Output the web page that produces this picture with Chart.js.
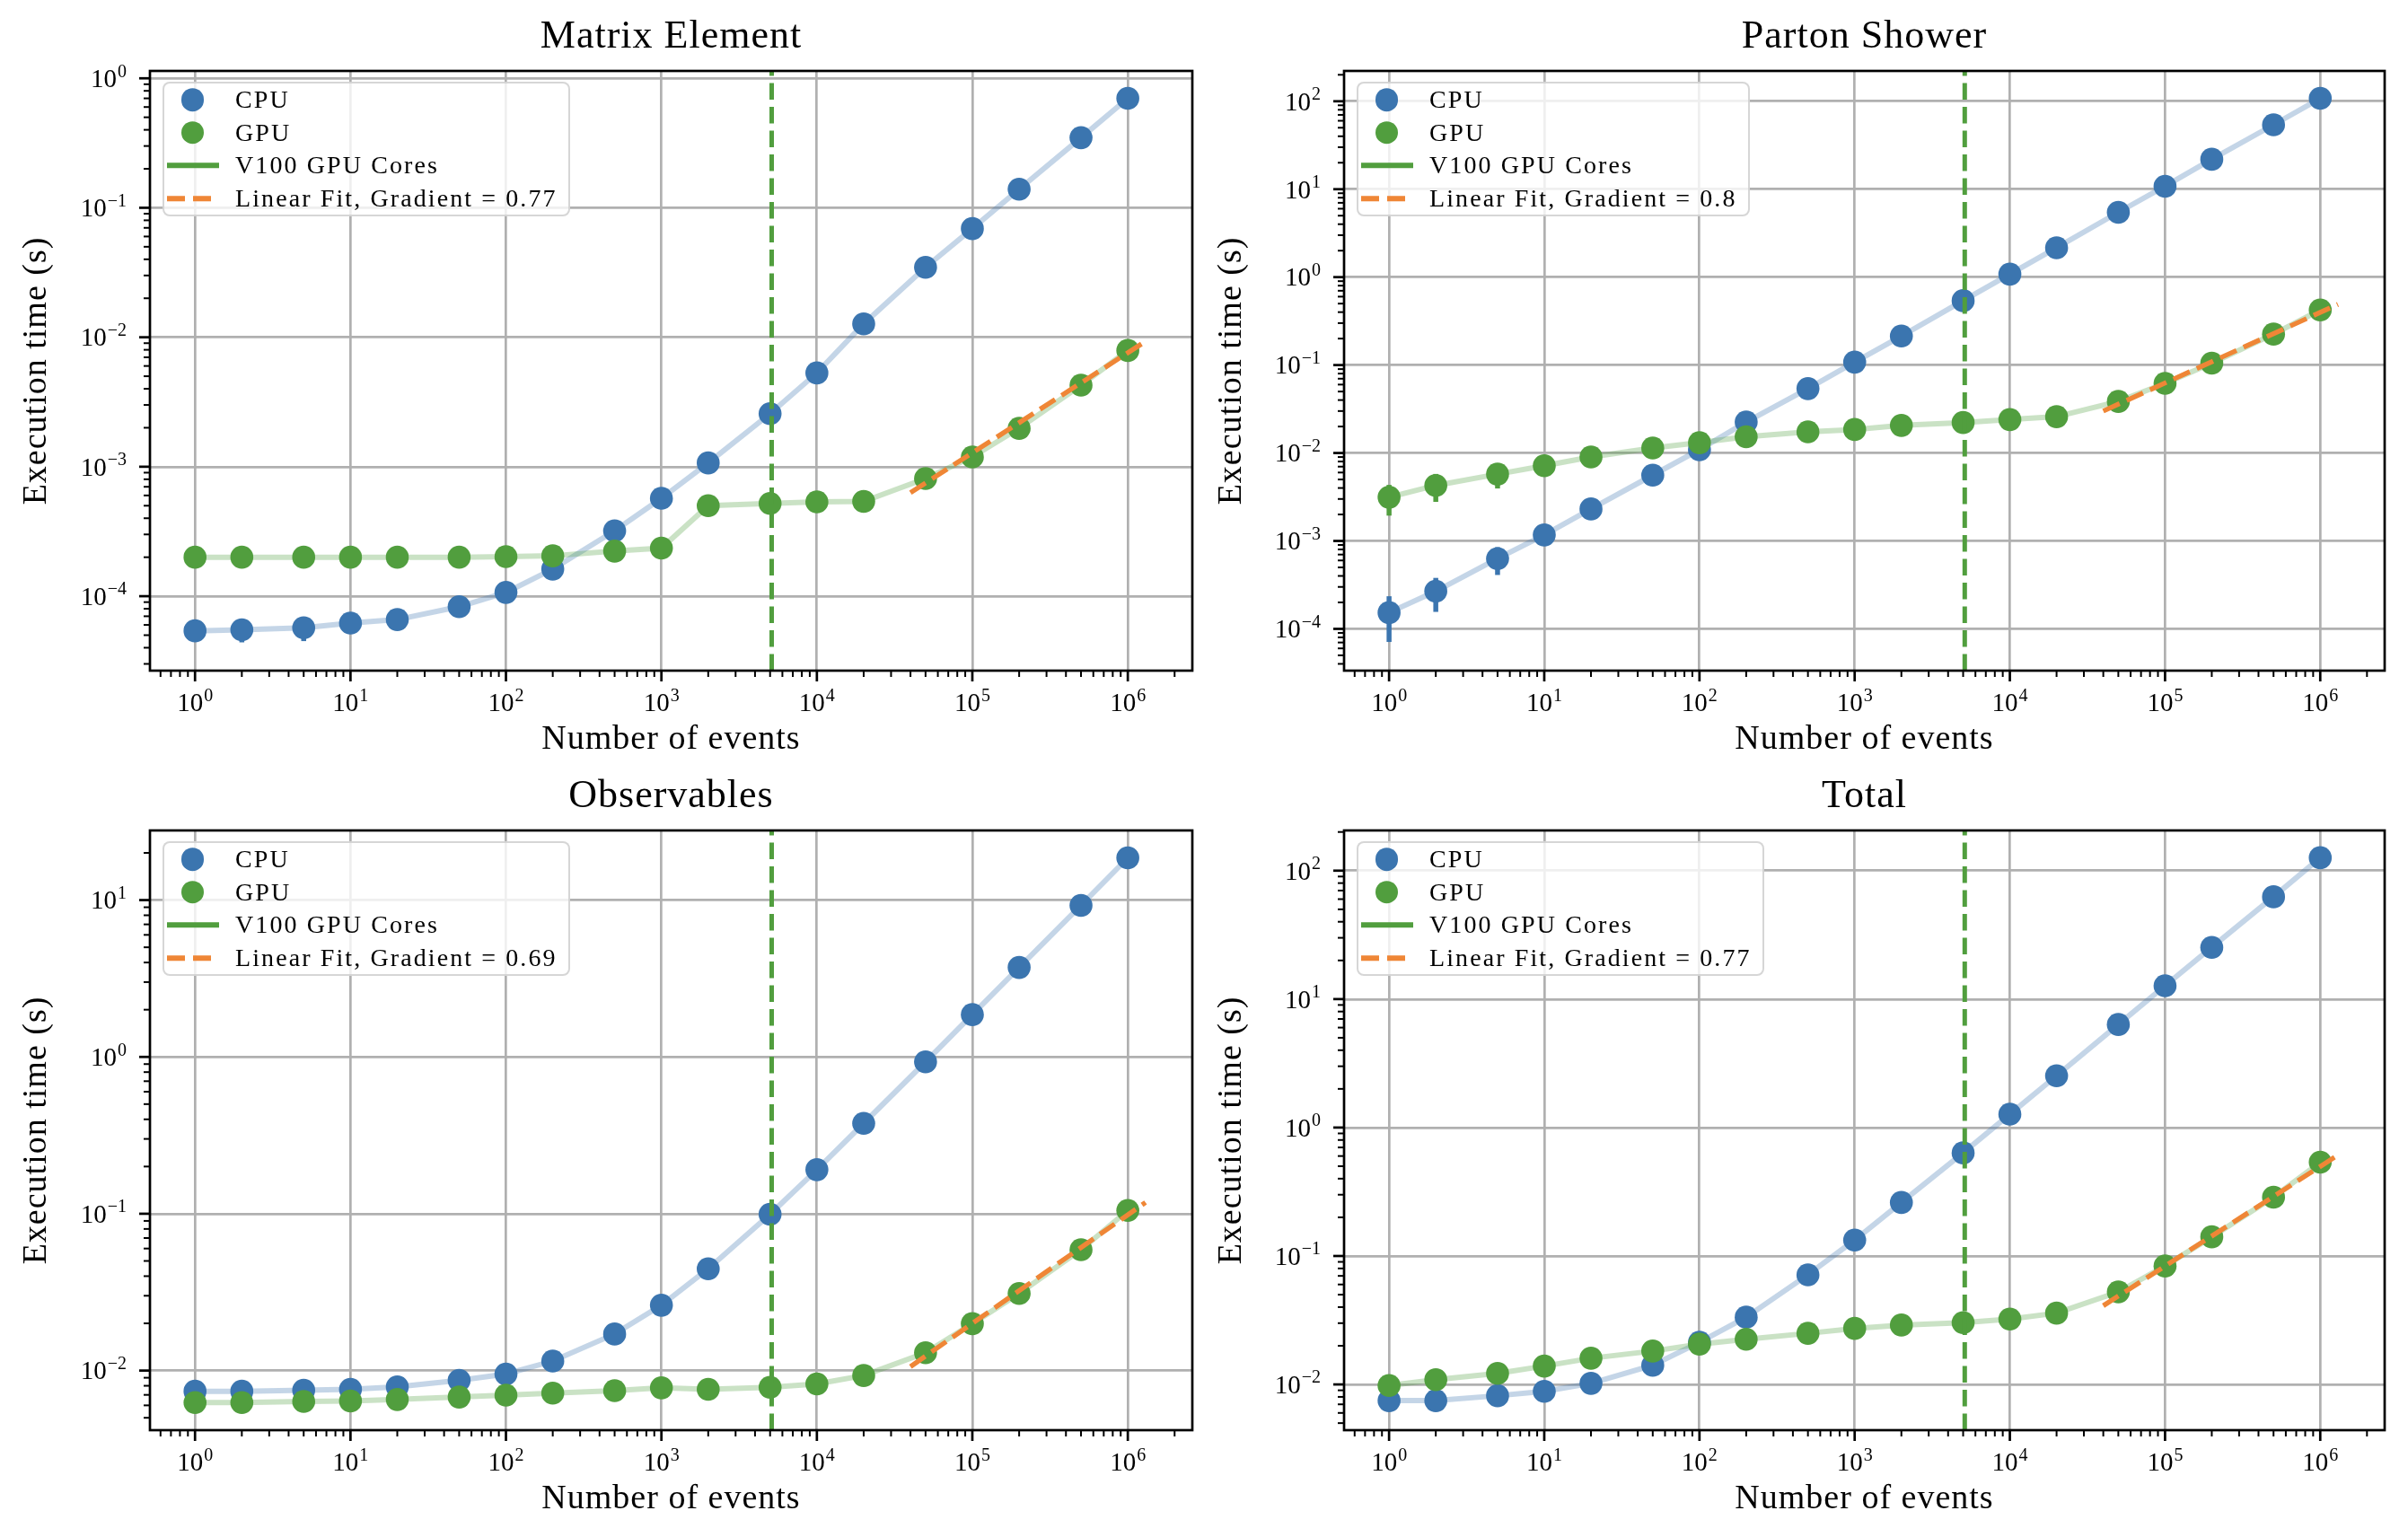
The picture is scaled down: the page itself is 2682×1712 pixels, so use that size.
<!DOCTYPE html>
<html>
<head>
<meta charset="utf-8">
<script src="https://cdn.jsdelivr.net/npm/chart.js@4.4.1/dist/chart.umd.min.js"></script>
<style>
  html, body { margin: 0; padding: 0; background: #ffffff; }
  body { width: 2682px; height: 1712px; position: relative; overflow: hidden; font-family: "Liberation Serif", serif; }
  canvas { position: absolute; }
  .legend { position: absolute; background: rgba(255,255,255,0.8); border: 2.7px solid rgba(204,204,204,0.8);
            border-radius: 8px; padding: 0 12px 0 0; box-sizing: border-box; }
  .row { height: 36.6px; position: relative; display: flex; align-items: center; }
  .lbl { margin-left: 79px; font-size: 28px; letter-spacing: 2.1px; white-space: nowrap; color: #000; }
  .dot { position: absolute; left: 18.5px; width: 25.6px; height: 25.6px; border-radius: 50%; top: 50%; transform: translateY(-50%); }
  .hline { position: absolute; left: 2.5px; width: 58px; height: 5.5px; top: 50%; transform: translateY(-50%); }
</style>
</head>
<body>
<script>
// ---------------- data ----------------
const events = [1, 2, 5, 10, 20, 50, 100, 200, 500, 1000, 2000, 5000, 10000, 20000, 50000, 100000, 200000, 500000, 1000000];

const meCpu    = [5.4e-5, 5.5e-5, 5.7e-5, 6.2e-5, 6.6e-5, 8.3e-5, 1.07e-4, 1.62e-4, 3.2e-4, 5.7e-4, 1.07e-3, 2.57e-3, 5.3e-3, 1.27e-2, 3.47e-2, 6.9e-2, 0.139, 0.348, 0.70];
const meCpuErr = [0, 1.1e-5, 1.2e-5, 0, 0, 0, 0, 0, 0, 0, 0, 0, 0, 0, 0, 0, 0, 0, 0];
const meGpu    = [2.0e-4, 2.0e-4, 2.0e-4, 2.0e-4, 2.0e-4, 2.0e-4, 2.02e-4, 2.05e-4, 2.23e-4, 2.35e-4, 5.0e-4, 5.2e-4, 5.35e-4, 5.4e-4, 8.1e-4, 1.19e-3, 1.98e-3, 4.27e-3, 7.9e-3];
const meGpuErr = [0, 0, 0, 0, 0, 0, 0, 0, 0, 0, 0, 0, 0, 0, 0, 0, 0, 0, 0];

const psCpu    = [1.53e-4, 2.68e-4, 6.3e-4, 1.17e-3, 2.31e-3, 5.6e-3, 1.09e-2, 2.25e-2, 5.4e-2, 0.108, 0.214, 0.54, 1.08, 2.16, 5.46, 10.8, 21.9, 54, 108];
const psCpuErr = [8.2e-5, 1.12e-4, 2.2e-4, 0, 0, 0, 0, 0, 0, 0, 0, 0, 0, 0, 0, 0, 0, 0, 0];
const psGpu    = [3.14e-3, 4.28e-3, 5.75e-3, 7.16e-3, 9.0e-3, 1.14e-2, 1.31e-2, 1.53e-2, 1.74e-2, 1.85e-2, 2.06e-2, 2.22e-2, 2.40e-2, 2.59e-2, 3.86e-2, 6.2e-2, 0.105, 0.225, 0.423];
const psGpuErr = [1.2e-3, 1.5e-3, 1.8e-3, 0, 0, 0, 0, 0, 0, 0, 0, 0, 0, 0, 0, 0, 0, 0, 0];

const obCpu    = [7.38e-3, 7.38e-3, 7.49e-3, 7.6e-3, 7.88e-3, 8.66e-3, 9.5e-3, 1.15e-2, 1.71e-2, 2.61e-2, 4.46e-2, 9.93e-2, 0.191, 0.377, 0.93, 1.86, 3.72, 9.25, 18.6];
const obCpuErr = [0, 0, 0, 0, 0, 0, 0, 0, 0, 0, 0, 0, 0, 0, 0, 0, 0, 0, 0];
const obGpu    = [6.25e-3, 6.25e-3, 6.35e-3, 6.4e-3, 6.54e-3, 6.78e-3, 6.97e-3, 7.18e-3, 7.44e-3, 7.76e-3, 7.6e-3, 7.82e-3, 8.22e-3, 9.3e-3, 1.30e-2, 1.99e-2, 3.10e-2, 5.9e-2, 0.105];
const obGpuErr = [0, 0, 0, 0, 0, 0, 0, 0, 0, 0, 0, 0, 0, 0, 0, 0, 0, 0, 0];

const toCpu    = [7.48e-3, 7.48e-3, 8.17e-3, 8.84e-3, 1.02e-2, 1.41e-2, 2.13e-2, 3.34e-2, 7.14e-2, 0.133, 0.261, 0.635, 1.27, 2.53, 6.34, 12.7, 25.3, 62.6, 126];
const toCpuErr = [0, 0, 0, 0, 0, 0, 0, 0, 0, 0, 0, 0, 0, 0, 0, 0, 0, 0, 0];
const toGpu    = [9.8e-3, 1.09e-2, 1.22e-2, 1.39e-2, 1.60e-2, 1.82e-2, 2.06e-2, 2.25e-2, 2.50e-2, 2.73e-2, 2.90e-2, 3.03e-2, 3.23e-2, 3.59e-2, 5.25e-2, 8.36e-2, 0.141, 0.287, 0.537];
const toGpuErr = [0, 0, 0, 0, 0, 0, 0, 0, 0, 0, 0, 0, 0, 0, 0, 0, 0, 0, 0];

// linear fit end points (x, y)
const fitEvents = [40000, 1300000];
const meFit = [6.3e-4, 9.3e-3];
const psFit = [3.0e-2, 0.49];
const obFit = [1.06e-2, 0.118];
const toFit = [4.1e-2, 0.61];

const panelTitles = ['Matrix Element', 'Parton Shower', 'Observables', 'Total'];
const fitGradients = ['0.77', '0.8', '0.69', '0.77'];
const seriesNames = ['CPU', 'GPU', 'V100 GPU Cores', 'Linear Fit, Gradient = '];
const v100Cores = 5120;
const xAxisTitle = 'Number of events';
const yAxisTitle = 'Execution time (s)';
// axis limits (log10)
const xLimLog = [-0.29, 6.415];
const yLimLog = [[-4.575, 0.057], [-4.475, 2.345], [-2.38, 1.444], [-2.356, 2.313]];

// ---------------- styling ----------------
const CPU_COLOR = '#3b75af';
const GPU_COLOR = '#519e3e';
const FIT_COLOR = '#ef8636';
const CPU_LIGHT = 'rgba(59,117,175,0.3)';
const GPU_LIGHT = 'rgba(81,158,62,0.3)';
const SERIF = '"Liberation Serif", "DejaVu Serif", serif';

const layouts = [
  { left: 0,    top: 0,   w: 1341, h: 856, plotL: 167, plotR: 1328 },
  { left: 1331, top: 0,   w: 1351, h: 856, plotL: 166, plotR: 1325 },
  { left: 0,    top: 846, w: 1341, h: 856, plotL: 167, plotR: 1328 },
  { left: 1331, top: 846, w: 1351, h: 856, plotL: 166, plotR: 1325 }
];
const PLOT_TOP = 79, PLOT_BOTTOM = 747;

const panelData = [
  { cpu: meCpu, cpuErr: meCpuErr, gpu: meGpu, gpuErr: meGpuErr, fit: meFit },
  { cpu: psCpu, cpuErr: psCpuErr, gpu: psGpu, gpuErr: psGpuErr, fit: psFit },
  { cpu: obCpu, cpuErr: obCpuErr, gpu: obGpu, gpuErr: obGpuErr, fit: obFit },
  { cpu: toCpu, cpuErr: toCpuErr, gpu: toGpu, gpuErr: toGpuErr, fit: toFit }
];

function logTicks(min, max) {
  const out = [];
  const e0 = Math.floor(Math.log10(min)) - 1, e1 = Math.ceil(Math.log10(max)) + 1;
  for (let e = e0; e <= e1; e++) {
    for (let k = 1; k <= 9; k++) {
      const v = k * Math.pow(10, e);
      if (v >= min * 0.99999 && v <= max * 1.00001) out.push({ value: v, major: k === 1 });
    }
  }
  return out;
}

const TICK_BASE = 29, TICK_SUP = 20, SUP_RAISE = 11.5;
function drawPow(ctx, exp, x, baseY, align) {
  const es = exp < 0 ? '\u2212' + (-exp) : String(exp);
  ctx.font = TICK_BASE + 'px ' + SERIF;
  const wB = ctx.measureText('10').width;
  ctx.font = TICK_SUP + 'px ' + SERIF;
  const wE = ctx.measureText(es).width;
  const total = wB + 1 + wE;
  const x0 = align === 'center' ? x - total / 2 : x - total;
  ctx.textAlign = 'left';
  ctx.textBaseline = 'alphabetic';
  ctx.font = TICK_BASE + 'px ' + SERIF;
  ctx.fillText('10', x0, baseY);
  ctx.font = TICK_SUP + 'px ' + SERIF;
  ctx.fillText(es, x0 + wB + 1, baseY - SUP_RAISE);
}

const mplAxes = {
  id: 'mplAxes',
  beforeDraw(chart) { chart.ctx.letterSpacing = '1px'; },
  beforeDatasetDraw(chart, args) {
    const ds = chart.data.datasets[args.index];
    if (!ds.err) return;
    const ctx = chart.ctx, xs = chart.scales.x, ys = chart.scales.y, a = chart.chartArea;
    ctx.save();
    ctx.beginPath(); ctx.rect(a.left, a.top, a.right - a.left, a.bottom - a.top); ctx.clip();
    ctx.strokeStyle = ds.pointBackgroundColor;
    ctx.lineWidth = 5.5;
    ctx.lineCap = 'butt';
    ds.data.forEach((p, i) => {
      const e = ds.err[i];
      if (!e) return;
      const px = xs.getPixelForValue(p.x);
      const lo = Math.max(p.y - e, ys.min);
      ctx.beginPath();
      ctx.moveTo(px, ys.getPixelForValue(lo));
      ctx.lineTo(px, ys.getPixelForValue(p.y + e));
      ctx.stroke();
    });
    ctx.restore();
  },
  afterDatasetsDraw(chart) {
    const ctx = chart.ctx, a = chart.chartArea, xs = chart.scales.x, ys = chart.scales.y;
    ctx.save();
    ctx.letterSpacing = '0px';
    ctx.strokeStyle = '#000';
    ctx.fillStyle = '#000';
    ctx.lineCap = 'butt';
    xs.ticks.forEach(t => {
      const px = xs.getPixelForValue(t.value);
      if (px < a.left - 0.5 || px > a.right + 0.5) return;
      ctx.lineWidth = t.major ? 2.7 : 2.0;
      ctx.beginPath(); ctx.moveTo(px, a.bottom); ctx.lineTo(px, a.bottom + (t.major ? 12 : 7)); ctx.stroke();
      if (t.major) drawPow(ctx, Math.round(Math.log10(t.value)), px, a.bottom + 45, 'center');
    });
    ys.ticks.forEach(t => {
      const py = ys.getPixelForValue(t.value);
      if (py < a.top - 0.5 || py > a.bottom + 0.5) return;
      ctx.lineWidth = t.major ? 2.7 : 2.0;
      ctx.beginPath(); ctx.moveTo(a.left, py); ctx.lineTo(a.left - (t.major ? 12 : 7), py); ctx.stroke();
      if (t.major) drawPow(ctx, Math.round(Math.log10(t.value)), a.left - 26, py + 9.8, 'right');
    });
    ctx.lineWidth = 2.7;
    ctx.strokeRect(a.left, a.top, a.right - a.left, a.bottom - a.top);
    ctx.restore();
  }
};

function pts(xs, ys) { return xs.map((x, i) => ({ x: x, y: ys[i] })); }

function makeLegend(L, grad) {
  const div = document.createElement('div');
  div.className = 'legend';
  div.style.left = (L.left + L.plotL + 14) + 'px';
  div.style.top = (L.top + 91) + 'px';
  const items = [
    { kind: 'dot', color: CPU_COLOR, text: seriesNames[0] },
    { kind: 'dot', color: GPU_COLOR, text: seriesNames[1] },
    { kind: 'line', color: GPU_COLOR, text: seriesNames[2] },
    { kind: 'dash', color: FIT_COLOR, text: seriesNames[3] + grad }
  ];
  items.forEach(it => {
    const row = document.createElement('div');
    row.className = 'row';
    const h = document.createElement('div');
    if (it.kind === 'dot') { h.className = 'dot'; h.style.background = it.color; }
    else if (it.kind === 'line') { h.className = 'hline'; h.style.background = it.color; }
    else { h.className = 'hline'; h.style.background = 'repeating-linear-gradient(to right, ' + it.color + ' 0 20px, transparent 20px 29px)'; }
    row.appendChild(h);
    const s = document.createElement('span');
    s.className = 'lbl';
    s.textContent = it.text;
    row.appendChild(s);
    div.appendChild(row);
  });
  document.body.appendChild(div);
}

layouts.forEach((L, idx) => {
  const D = panelData[idx];
  const yMin = Math.pow(10, yLimLog[idx][0]), yMax = Math.pow(10, yLimLog[idx][1]);
  const canvas = document.createElement('canvas');
  canvas.width = L.w; canvas.height = L.h;
  canvas.style.left = L.left + 'px'; canvas.style.top = L.top + 'px';
  canvas.style.width = L.w + 'px'; canvas.style.height = L.h + 'px';
  document.body.appendChild(canvas);

  new Chart(canvas.getContext('2d'), {
    type: 'line',
    data: {
      datasets: [
        { label: seriesNames[2], data: [{ x: v100Cores, y: yMin }, { x: v100Cores, y: yMax }],
          borderColor: GPU_COLOR, borderWidth: 5, borderDash: [18.5, 8], pointRadius: 0, order: 0 },
        { label: seriesNames[3] + fitGradients[idx], data: pts(fitEvents, D.fit),
          borderColor: FIT_COLOR, borderWidth: 5.4, borderDash: [20, 8.6], pointRadius: 0, order: 1 },
        { label: 'GPU points', data: pts(events, D.gpu), err: D.gpuErr, showLine: false,
          pointRadius: 12.8, pointHoverRadius: 12.8, pointBackgroundColor: GPU_COLOR, pointBorderWidth: 0,
          borderColor: GPU_COLOR, order: 2 },
        { label: 'CPU points', data: pts(events, D.cpu), err: D.cpuErr, showLine: false,
          pointRadius: 12.8, pointHoverRadius: 12.8, pointBackgroundColor: CPU_COLOR, pointBorderWidth: 0,
          borderColor: CPU_COLOR, order: 3 },
        { label: 'GPU line', data: pts(events, D.gpu), borderColor: GPU_LIGHT, borderWidth: 6,
          pointRadius: 0, tension: 0, order: 4 },
        { label: 'CPU line', data: pts(events, D.cpu), borderColor: CPU_LIGHT, borderWidth: 6,
          pointRadius: 0, tension: 0, order: 5 }
      ]
    },
    options: {
      responsive: false,
      maintainAspectRatio: false,
      devicePixelRatio: 1,
      animation: false,
      events: [],
      layout: { padding: { left: 0, top: 0, bottom: 0, right: L.w - L.plotR } },
      plugins: {
        legend: { display: false },
        tooltip: { enabled: false },
        title: {
          display: true, text: panelTitles[idx], fullSize: false, color: '#000',
          font: { family: SERIF, size: 44, weight: 'normal', lineHeight: 1.2 },
          padding: { top: 14.6, bottom: 11.6 }
        }
      },
      scales: {
        x: {
          type: 'logarithmic', position: 'bottom',
          min: Math.pow(10, xLimLog[0]), max: Math.pow(10, xLimLog[1]),
          afterBuildTicks: s => { s.ticks = logTicks(s.min, s.max); },
          afterFit: s => { s.height = L.h - PLOT_BOTTOM; },
          ticks: { display: false, autoSkip: false },
          border: { display: false },
          grid: { drawTicks: false, lineWidth: 2.7,
                  color: c => (c.tick && c.tick.major) ? '#b0b0b0' : 'rgba(0,0,0,0)' },
          title: { display: true, text: xAxisTitle, color: '#000',
                   font: { family: SERIF, size: 38, weight: 'normal', lineHeight: 1.2 },
                   padding: { top: 0, bottom: 9.4 } }
        },
        y: {
          type: 'logarithmic', position: 'left',
          min: yMin, max: yMax,
          afterBuildTicks: s => { s.ticks = logTicks(s.min, s.max); },
          afterFit: s => { s.width = L.plotL; },
          ticks: { display: false, autoSkip: false },
          border: { display: false },
          grid: { drawTicks: false, lineWidth: 2.7,
                  color: c => (c.tick && c.tick.major) ? '#b0b0b0' : 'rgba(0,0,0,0)' },
          title: { display: true, text: yAxisTitle, color: '#000',
                   font: { family: SERIF, size: 38, weight: 'normal', lineHeight: 1.2 },
                   padding: { top: 18.2, bottom: 0 } }
        }
      }
    },
    plugins: [mplAxes]
  });
  makeLegend(L, fitGradients[idx]);
});
</script>
</body>
</html>
